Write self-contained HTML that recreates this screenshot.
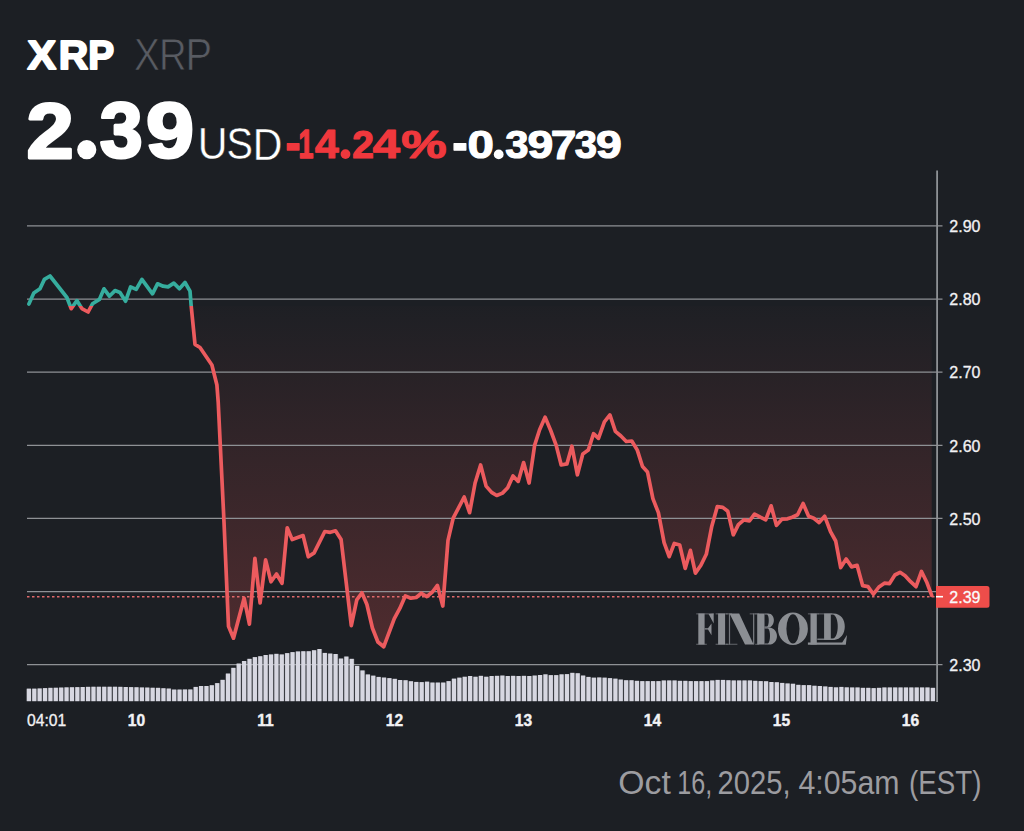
<!DOCTYPE html>
<html><head><meta charset="utf-8">
<style>
html,body{margin:0;padding:0;background:#1c1f24;}
body{width:1024px;height:831px;overflow:hidden;position:relative;font-family:"Liberation Sans",sans-serif;}
.t{position:absolute;white-space:nowrap;line-height:1;transform-origin:0 0;}
svg{position:absolute;left:0;top:0;}
</style></head><body>
<svg width="1024" height="831" viewBox="0 0 1024 831">
<defs>
<linearGradient id="g" x1="0" y1="306.0" x2="0" y2="701" gradientUnits="userSpaceOnUse">
<stop offset="0" stop-color="#ef5350" stop-opacity="0.01"/>
<stop offset="1" stop-color="#ef5350" stop-opacity="0.28"/>
</linearGradient>
<clipPath id="up"><rect x="0" y="0" width="1024" height="306.0"/></clipPath>
<clipPath id="dn"><rect x="0" y="306.0" width="1024" height="600"/></clipPath>
</defs>
<polygon points="28.9,306.0 28.9,304.0 33.8,293.1 40.0,288.8 44.4,279.4 50.0,276.0 66.9,297.5 71.2,308.7 76.9,300.6 81.9,308.6 88.1,312.0 92.5,303.8 99.4,299.4 104.0,288.8 109.4,296.2 115.0,290.6 120.0,292.5 125.6,301.2 130.6,286.9 136.2,289.4 141.9,279.4 152.5,293.8 157.5,283.8 163.1,286.2 168.1,286.9 173.8,283.1 179.4,288.8 185.0,282.5 190.0,291.2 191.2,306.2 195.0,344.4 200.0,347.5 211.9,365.0 216.9,385.0 218.2,402.0 224.0,522.0 228.5,626.4 233.5,638.2 244.1,598.2 249.4,624.1 254.9,558.3 260.1,603.0 265.6,559.9 271.0,581.8 276.5,574.0 282.0,583.4 287.2,527.8 292.2,539.6 303.1,535.6 308.3,556.8 314.1,552.9 324.8,531.5 330.3,532.3 335.5,530.8 341.1,539.6 351.3,625.6 356.8,599.8 361.9,592.8 366.9,604.5 372.4,628.0 377.9,642.0 383.7,646.8 394.3,618.6 399.8,608.4 405.3,595.9 410.8,598.2 416.2,597.5 421.4,593.2 426.9,596.7 432.4,592.0 437.4,585.4 442.8,606.0 448.0,540.3 453.2,518.2 464.2,497.0 469.6,512.7 475.1,483.0 480.6,465.0 486.1,486.1 491.6,492.4 496.7,495.5 502.5,493.1 507.7,487.7 513.0,475.9 518.2,481.4 523.6,462.6 529.1,483.0 534.6,445.4 539.6,429.7 545.1,417.2 550.7,430.5 556.2,445.4 561.2,465.0 566.9,463.9 571.9,446.2 577.4,474.8 582.8,454.0 588.3,450.1 593.5,433.7 598.5,438.4 604.4,421.9 609.9,414.9 615.4,431.3 620.9,436.0 626.3,441.5 631.8,441.0 637.3,450.1 642.5,466.5 647.5,472.0 652.9,498.6 658.4,512.7 664.1,542.6 669.2,556.7 674.3,543.4 679.7,545.0 685.2,568.4 690.4,550.4 695.4,573.1 700.9,565.3 706.3,554.3 711.8,526.2 717.3,506.6 722.8,507.4 727.8,511.3 733.3,534.8 738.4,524.6 743.9,519.9 749.4,521.0 754.5,514.1 760.3,517.2 765.7,519.9 771.1,505.8 776.5,525.4 782.0,519.1 787.5,518.8 792.2,517.2 797.6,514.7 803.1,503.5 808.6,516.3 813.8,518.3 819.1,522.6 824.7,516.3 830.5,531.6 835.7,541.0 840.7,567.6 846.2,559.0 851.6,566.9 857.1,565.3 862.6,585.6 868.0,586.6 873.4,594.2 878.9,587.0 884.4,583.2 889.5,583.6 894.9,575.0 900.0,572.3 905.1,575.8 910.6,581.7 916.0,586.7 921.5,571.5 927.0,582.8 931.7,595.3 931.7,306.0" fill="url(#g)" clip-path="url(#dn)"/>
<g stroke="#8e9195" stroke-width="1.25"><line x1="27" x2="942.5" y1="225.95" y2="225.95"/><line x1="27" x2="942.5" y1="299.05" y2="299.05"/><line x1="27" x2="942.5" y1="372.2" y2="372.2"/><line x1="27" x2="942.5" y1="445.4" y2="445.4"/><line x1="27" x2="942.5" y1="518.45" y2="518.45"/><line x1="27" x2="942.5" y1="591.5" y2="591.5"/><line x1="27" x2="942.5" y1="664.65" y2="664.65"/></g>
<line x1="937.1" x2="937.1" y1="170.5" y2="702" stroke="#8e9195" stroke-width="1.8"/>
<g fill="#d7d7e1" opacity="0.2"><rect x="26.20" y="688.9" width="5.48" height="12.3"/><rect x="31.58" y="688.9" width="5.48" height="12.3"/><rect x="36.96" y="688.7" width="5.48" height="12.5"/><rect x="42.34" y="688.4" width="5.48" height="12.8"/><rect x="47.72" y="688.1" width="5.48" height="13.1"/><rect x="53.10" y="688.0" width="5.48" height="13.2"/><rect x="58.48" y="687.8" width="5.48" height="13.4"/><rect x="63.86" y="687.6" width="5.48" height="13.6"/><rect x="69.25" y="687.5" width="5.48" height="13.7"/><rect x="74.63" y="687.4" width="5.48" height="13.8"/><rect x="80.01" y="687.3" width="5.48" height="13.9"/><rect x="85.39" y="687.1" width="5.48" height="14.1"/><rect x="90.77" y="687.0" width="5.48" height="14.2"/><rect x="96.15" y="687.0" width="5.48" height="14.2"/><rect x="101.53" y="687.0" width="5.48" height="14.2"/><rect x="106.91" y="687.0" width="5.48" height="14.2"/><rect x="112.29" y="687.0" width="5.48" height="14.2"/><rect x="117.67" y="687.1" width="5.48" height="14.1"/><rect x="123.05" y="687.3" width="5.48" height="13.9"/><rect x="128.43" y="687.4" width="5.48" height="13.8"/><rect x="133.81" y="687.5" width="5.48" height="13.7"/><rect x="139.19" y="687.7" width="5.48" height="13.5"/><rect x="144.58" y="687.8" width="5.48" height="13.4"/><rect x="149.96" y="688.0" width="5.48" height="13.2"/><rect x="155.34" y="688.1" width="5.48" height="13.1"/><rect x="160.72" y="688.5" width="5.48" height="12.7"/><rect x="166.10" y="688.8" width="5.48" height="12.4"/><rect x="171.48" y="689.8" width="5.48" height="11.4"/><rect x="176.86" y="689.8" width="5.48" height="11.4"/><rect x="182.24" y="689.7" width="5.48" height="11.5"/><rect x="187.62" y="689.7" width="5.48" height="11.5"/><rect x="193.00" y="687.2" width="5.48" height="14.0"/><rect x="198.38" y="686.3" width="5.48" height="14.9"/><rect x="203.76" y="686.3" width="5.48" height="14.9"/><rect x="209.14" y="685.5" width="5.48" height="15.7"/><rect x="214.52" y="683.4" width="5.48" height="17.8"/><rect x="219.91" y="680.0" width="5.48" height="21.2"/><rect x="225.29" y="673.8" width="5.48" height="27.4"/><rect x="230.67" y="668.0" width="5.48" height="33.2"/><rect x="236.05" y="663.8" width="5.48" height="37.4"/><rect x="241.43" y="661.3" width="5.48" height="39.9"/><rect x="246.81" y="659.0" width="5.48" height="42.2"/><rect x="252.19" y="657.4" width="5.48" height="43.8"/><rect x="257.57" y="656.5" width="5.48" height="44.7"/><rect x="262.95" y="655.3" width="5.48" height="45.9"/><rect x="268.33" y="654.7" width="5.48" height="46.5"/><rect x="273.71" y="654.0" width="5.48" height="47.2"/><rect x="279.09" y="654.7" width="5.48" height="46.5"/><rect x="284.47" y="653.4" width="5.48" height="47.8"/><rect x="289.85" y="652.4" width="5.48" height="48.8"/><rect x="295.24" y="651.7" width="5.48" height="49.5"/><rect x="300.62" y="651.5" width="5.48" height="49.7"/><rect x="306.00" y="651.5" width="5.48" height="49.7"/><rect x="311.38" y="650.5" width="5.48" height="50.7"/><rect x="316.76" y="649.3" width="5.48" height="51.9"/><rect x="322.14" y="653.2" width="5.48" height="48.0"/><rect x="327.52" y="653.8" width="5.48" height="47.4"/><rect x="332.90" y="654.3" width="5.48" height="46.9"/><rect x="338.28" y="658.8" width="5.48" height="42.4"/><rect x="343.66" y="656.8" width="5.48" height="44.4"/><rect x="349.04" y="659.0" width="5.48" height="42.2"/><rect x="354.42" y="666.2" width="5.48" height="35.0"/><rect x="359.80" y="670.7" width="5.48" height="30.5"/><rect x="365.18" y="674.7" width="5.48" height="26.5"/><rect x="370.56" y="675.9" width="5.48" height="25.3"/><rect x="375.95" y="677.2" width="5.48" height="24.0"/><rect x="381.33" y="677.8" width="5.48" height="23.4"/><rect x="386.71" y="678.4" width="5.48" height="22.8"/><rect x="392.09" y="679.0" width="5.48" height="22.2"/><rect x="397.47" y="680.3" width="5.48" height="20.9"/><rect x="402.85" y="680.5" width="5.48" height="20.7"/><rect x="408.23" y="681.5" width="5.48" height="19.7"/><rect x="413.61" y="682.2" width="5.48" height="19.0"/><rect x="418.99" y="682.4" width="5.48" height="18.8"/><rect x="424.37" y="681.9" width="5.48" height="19.3"/><rect x="429.75" y="682.8" width="5.48" height="18.4"/><rect x="435.13" y="682.8" width="5.48" height="18.4"/><rect x="440.51" y="682.8" width="5.48" height="18.4"/><rect x="445.89" y="681.4" width="5.48" height="19.8"/><rect x="451.28" y="678.9" width="5.48" height="22.3"/><rect x="456.66" y="677.9" width="5.48" height="23.3"/><rect x="462.04" y="677.0" width="5.48" height="24.2"/><rect x="467.42" y="676.3" width="5.48" height="24.9"/><rect x="472.80" y="677.0" width="5.48" height="24.2"/><rect x="478.18" y="676.1" width="5.48" height="25.1"/><rect x="483.56" y="677.0" width="5.48" height="24.2"/><rect x="488.94" y="676.3" width="5.48" height="24.9"/><rect x="494.32" y="676.1" width="5.48" height="25.1"/><rect x="499.70" y="675.8" width="5.48" height="25.4"/><rect x="505.08" y="676.3" width="5.48" height="24.9"/><rect x="510.46" y="676.1" width="5.48" height="25.1"/><rect x="515.84" y="676.3" width="5.48" height="24.9"/><rect x="521.22" y="676.1" width="5.48" height="25.1"/><rect x="526.61" y="676.3" width="5.48" height="24.9"/><rect x="531.99" y="675.8" width="5.48" height="25.4"/><rect x="537.37" y="675.3" width="5.48" height="25.9"/><rect x="542.75" y="674.6" width="5.48" height="26.6"/><rect x="548.13" y="675.4" width="5.48" height="25.8"/><rect x="553.51" y="675.4" width="5.48" height="25.8"/><rect x="558.89" y="674.6" width="5.48" height="26.6"/><rect x="564.27" y="674.4" width="5.48" height="26.8"/><rect x="569.65" y="673.1" width="5.48" height="28.1"/><rect x="575.03" y="673.5" width="5.48" height="27.7"/><rect x="580.41" y="675.8" width="5.48" height="25.4"/><rect x="585.79" y="677.2" width="5.48" height="24.0"/><rect x="591.17" y="677.9" width="5.48" height="23.3"/><rect x="596.55" y="677.7" width="5.48" height="23.5"/><rect x="601.93" y="677.9" width="5.48" height="23.3"/><rect x="607.32" y="678.4" width="5.48" height="22.8"/><rect x="612.70" y="678.9" width="5.48" height="22.3"/><rect x="618.08" y="679.8" width="5.48" height="21.4"/><rect x="623.46" y="680.5" width="5.48" height="20.7"/><rect x="628.84" y="680.5" width="5.48" height="20.7"/><rect x="634.22" y="681.1" width="5.48" height="20.1"/><rect x="639.60" y="681.4" width="5.48" height="19.8"/><rect x="644.98" y="681.4" width="5.48" height="19.8"/><rect x="650.36" y="681.4" width="5.48" height="19.8"/><rect x="655.74" y="681.4" width="5.48" height="19.8"/><rect x="661.12" y="680.7" width="5.48" height="20.5"/><rect x="666.50" y="680.7" width="5.48" height="20.5"/><rect x="671.88" y="680.7" width="5.48" height="20.5"/><rect x="677.26" y="681.1" width="5.48" height="20.1"/><rect x="682.65" y="681.1" width="5.48" height="20.1"/><rect x="688.03" y="681.4" width="5.48" height="19.8"/><rect x="693.41" y="681.4" width="5.48" height="19.8"/><rect x="698.79" y="681.4" width="5.48" height="19.8"/><rect x="704.17" y="681.4" width="5.48" height="19.8"/><rect x="709.55" y="680.7" width="5.48" height="20.5"/><rect x="714.93" y="680.2" width="5.48" height="21.0"/><rect x="720.31" y="680.2" width="5.48" height="21.0"/><rect x="725.69" y="680.5" width="5.48" height="20.7"/><rect x="731.07" y="680.7" width="5.48" height="20.5"/><rect x="736.45" y="680.7" width="5.48" height="20.5"/><rect x="741.83" y="680.7" width="5.48" height="20.5"/><rect x="747.21" y="680.7" width="5.48" height="20.5"/><rect x="752.59" y="681.1" width="5.48" height="20.1"/><rect x="757.98" y="681.4" width="5.48" height="19.8"/><rect x="763.36" y="681.5" width="5.48" height="19.7"/><rect x="768.74" y="682.3" width="5.48" height="18.9"/><rect x="774.12" y="682.5" width="5.48" height="18.7"/><rect x="779.50" y="683.2" width="5.48" height="18.0"/><rect x="784.88" y="683.7" width="5.48" height="17.5"/><rect x="790.26" y="684.0" width="5.48" height="17.2"/><rect x="795.64" y="685.1" width="5.48" height="16.1"/><rect x="801.02" y="685.4" width="5.48" height="15.8"/><rect x="806.40" y="685.4" width="5.48" height="15.8"/><rect x="811.78" y="686.0" width="5.48" height="15.2"/><rect x="817.16" y="686.3" width="5.48" height="14.9"/><rect x="822.54" y="686.7" width="5.48" height="14.5"/><rect x="827.92" y="687.2" width="5.48" height="14.0"/><rect x="833.30" y="687.6" width="5.48" height="13.6"/><rect x="838.69" y="687.2" width="5.48" height="14.0"/><rect x="844.07" y="687.6" width="5.48" height="13.6"/><rect x="849.45" y="687.7" width="5.48" height="13.5"/><rect x="854.83" y="687.7" width="5.48" height="13.5"/><rect x="860.21" y="688.1" width="5.48" height="13.1"/><rect x="865.59" y="688.1" width="5.48" height="13.1"/><rect x="870.97" y="688.4" width="5.48" height="12.8"/><rect x="876.35" y="688.1" width="5.48" height="13.1"/><rect x="881.73" y="687.7" width="5.48" height="13.5"/><rect x="887.11" y="687.7" width="5.48" height="13.5"/><rect x="892.49" y="687.7" width="5.48" height="13.5"/><rect x="897.87" y="687.7" width="5.48" height="13.5"/><rect x="903.25" y="687.7" width="5.48" height="13.5"/><rect x="908.63" y="687.7" width="5.48" height="13.5"/><rect x="914.02" y="687.7" width="5.48" height="13.5"/><rect x="919.40" y="687.7" width="5.48" height="13.5"/><rect x="924.78" y="687.7" width="5.48" height="13.5"/><rect x="930.16" y="688.1" width="5.48" height="13.1"/></g><g fill="#d7d7e1"><rect x="26.80" y="688.6" width="4.2" height="12.6"/><rect x="32.18" y="688.6" width="4.2" height="12.6"/><rect x="37.56" y="688.4" width="4.2" height="12.8"/><rect x="42.94" y="688.1" width="4.2" height="13.1"/><rect x="48.32" y="687.8" width="4.2" height="13.4"/><rect x="53.70" y="687.7" width="4.2" height="13.5"/><rect x="59.08" y="687.5" width="4.2" height="13.7"/><rect x="64.46" y="687.3" width="4.2" height="13.9"/><rect x="69.85" y="687.2" width="4.2" height="14.0"/><rect x="75.23" y="687.1" width="4.2" height="14.1"/><rect x="80.61" y="687.0" width="4.2" height="14.2"/><rect x="85.99" y="686.8" width="4.2" height="14.4"/><rect x="91.37" y="686.7" width="4.2" height="14.5"/><rect x="96.75" y="686.7" width="4.2" height="14.5"/><rect x="102.13" y="686.7" width="4.2" height="14.5"/><rect x="107.51" y="686.7" width="4.2" height="14.5"/><rect x="112.89" y="686.7" width="4.2" height="14.5"/><rect x="118.27" y="686.8" width="4.2" height="14.4"/><rect x="123.65" y="687.0" width="4.2" height="14.2"/><rect x="129.03" y="687.1" width="4.2" height="14.1"/><rect x="134.41" y="687.2" width="4.2" height="14.0"/><rect x="139.79" y="687.4" width="4.2" height="13.8"/><rect x="145.18" y="687.5" width="4.2" height="13.7"/><rect x="150.56" y="687.7" width="4.2" height="13.5"/><rect x="155.94" y="687.8" width="4.2" height="13.4"/><rect x="161.32" y="688.2" width="4.2" height="13.0"/><rect x="166.70" y="688.5" width="4.2" height="12.7"/><rect x="172.08" y="689.5" width="4.2" height="11.7"/><rect x="177.46" y="689.5" width="4.2" height="11.7"/><rect x="182.84" y="689.4" width="4.2" height="11.8"/><rect x="188.22" y="689.4" width="4.2" height="11.8"/><rect x="193.60" y="686.9" width="4.2" height="14.3"/><rect x="198.98" y="686.0" width="4.2" height="15.2"/><rect x="204.36" y="686.0" width="4.2" height="15.2"/><rect x="209.74" y="685.2" width="4.2" height="16.0"/><rect x="215.12" y="683.1" width="4.2" height="18.1"/><rect x="220.51" y="679.8" width="4.2" height="21.5"/><rect x="225.89" y="673.5" width="4.2" height="27.7"/><rect x="231.27" y="667.8" width="4.2" height="33.5"/><rect x="236.65" y="663.5" width="4.2" height="37.7"/><rect x="242.03" y="661.0" width="4.2" height="40.2"/><rect x="247.41" y="658.8" width="4.2" height="42.5"/><rect x="252.79" y="657.1" width="4.2" height="44.1"/><rect x="258.17" y="656.2" width="4.2" height="45.0"/><rect x="263.55" y="655.0" width="4.2" height="46.2"/><rect x="268.93" y="654.4" width="4.2" height="46.8"/><rect x="274.31" y="653.8" width="4.2" height="47.5"/><rect x="279.69" y="654.4" width="4.2" height="46.8"/><rect x="285.07" y="653.1" width="4.2" height="48.1"/><rect x="290.45" y="652.1" width="4.2" height="49.1"/><rect x="295.84" y="651.4" width="4.2" height="49.8"/><rect x="301.22" y="651.2" width="4.2" height="50.0"/><rect x="306.60" y="651.2" width="4.2" height="50.0"/><rect x="311.98" y="650.2" width="4.2" height="51.0"/><rect x="317.36" y="649.0" width="4.2" height="52.2"/><rect x="322.74" y="652.9" width="4.2" height="48.3"/><rect x="328.12" y="653.5" width="4.2" height="47.7"/><rect x="333.50" y="654.0" width="4.2" height="47.2"/><rect x="338.88" y="658.5" width="4.2" height="42.7"/><rect x="344.26" y="656.5" width="4.2" height="44.7"/><rect x="349.64" y="658.8" width="4.2" height="42.5"/><rect x="355.02" y="665.9" width="4.2" height="35.3"/><rect x="360.40" y="670.4" width="4.2" height="30.8"/><rect x="365.78" y="674.4" width="4.2" height="26.8"/><rect x="371.16" y="675.6" width="4.2" height="25.6"/><rect x="376.55" y="676.9" width="4.2" height="24.3"/><rect x="381.93" y="677.5" width="4.2" height="23.7"/><rect x="387.31" y="678.1" width="4.2" height="23.1"/><rect x="392.69" y="678.8" width="4.2" height="22.5"/><rect x="398.07" y="680.0" width="4.2" height="21.2"/><rect x="403.45" y="680.2" width="4.2" height="21.0"/><rect x="408.83" y="681.2" width="4.2" height="20.0"/><rect x="414.21" y="681.9" width="4.2" height="19.3"/><rect x="419.59" y="682.1" width="4.2" height="19.1"/><rect x="424.97" y="681.6" width="4.2" height="19.6"/><rect x="430.35" y="682.5" width="4.2" height="18.7"/><rect x="435.73" y="682.5" width="4.2" height="18.7"/><rect x="441.11" y="682.5" width="4.2" height="18.7"/><rect x="446.49" y="681.1" width="4.2" height="20.1"/><rect x="451.88" y="678.6" width="4.2" height="22.6"/><rect x="457.26" y="677.6" width="4.2" height="23.6"/><rect x="462.64" y="676.7" width="4.2" height="24.5"/><rect x="468.02" y="676.0" width="4.2" height="25.2"/><rect x="473.40" y="676.7" width="4.2" height="24.5"/><rect x="478.78" y="675.8" width="4.2" height="25.4"/><rect x="484.16" y="676.7" width="4.2" height="24.5"/><rect x="489.54" y="676.0" width="4.2" height="25.2"/><rect x="494.92" y="675.8" width="4.2" height="25.4"/><rect x="500.30" y="675.5" width="4.2" height="25.7"/><rect x="505.68" y="676.0" width="4.2" height="25.2"/><rect x="511.06" y="675.8" width="4.2" height="25.4"/><rect x="516.44" y="676.0" width="4.2" height="25.2"/><rect x="521.82" y="675.8" width="4.2" height="25.4"/><rect x="527.21" y="676.0" width="4.2" height="25.2"/><rect x="532.59" y="675.5" width="4.2" height="25.7"/><rect x="537.97" y="675.0" width="4.2" height="26.2"/><rect x="543.35" y="674.3" width="4.2" height="26.9"/><rect x="548.73" y="675.1" width="4.2" height="26.1"/><rect x="554.11" y="675.1" width="4.2" height="26.1"/><rect x="559.49" y="674.3" width="4.2" height="26.9"/><rect x="564.87" y="674.1" width="4.2" height="27.1"/><rect x="570.25" y="672.8" width="4.2" height="28.4"/><rect x="575.63" y="673.2" width="4.2" height="28.0"/><rect x="581.01" y="675.5" width="4.2" height="25.7"/><rect x="586.39" y="676.9" width="4.2" height="24.3"/><rect x="591.77" y="677.6" width="4.2" height="23.6"/><rect x="597.15" y="677.4" width="4.2" height="23.8"/><rect x="602.53" y="677.6" width="4.2" height="23.6"/><rect x="607.92" y="678.1" width="4.2" height="23.1"/><rect x="613.30" y="678.6" width="4.2" height="22.6"/><rect x="618.68" y="679.5" width="4.2" height="21.7"/><rect x="624.06" y="680.2" width="4.2" height="21.0"/><rect x="629.44" y="680.2" width="4.2" height="21.0"/><rect x="634.82" y="680.8" width="4.2" height="20.4"/><rect x="640.20" y="681.1" width="4.2" height="20.1"/><rect x="645.58" y="681.1" width="4.2" height="20.1"/><rect x="650.96" y="681.1" width="4.2" height="20.1"/><rect x="656.34" y="681.1" width="4.2" height="20.1"/><rect x="661.72" y="680.4" width="4.2" height="20.8"/><rect x="667.10" y="680.4" width="4.2" height="20.8"/><rect x="672.48" y="680.4" width="4.2" height="20.8"/><rect x="677.86" y="680.8" width="4.2" height="20.4"/><rect x="683.25" y="680.8" width="4.2" height="20.4"/><rect x="688.63" y="681.1" width="4.2" height="20.1"/><rect x="694.01" y="681.1" width="4.2" height="20.1"/><rect x="699.39" y="681.1" width="4.2" height="20.1"/><rect x="704.77" y="681.1" width="4.2" height="20.1"/><rect x="710.15" y="680.4" width="4.2" height="20.8"/><rect x="715.53" y="679.9" width="4.2" height="21.3"/><rect x="720.91" y="679.9" width="4.2" height="21.3"/><rect x="726.29" y="680.2" width="4.2" height="21.0"/><rect x="731.67" y="680.4" width="4.2" height="20.8"/><rect x="737.05" y="680.4" width="4.2" height="20.8"/><rect x="742.43" y="680.4" width="4.2" height="20.8"/><rect x="747.81" y="680.4" width="4.2" height="20.8"/><rect x="753.19" y="680.8" width="4.2" height="20.4"/><rect x="758.58" y="681.1" width="4.2" height="20.1"/><rect x="763.96" y="681.2" width="4.2" height="20.0"/><rect x="769.34" y="682.0" width="4.2" height="19.2"/><rect x="774.72" y="682.2" width="4.2" height="19.0"/><rect x="780.10" y="682.9" width="4.2" height="18.3"/><rect x="785.48" y="683.4" width="4.2" height="17.8"/><rect x="790.86" y="683.7" width="4.2" height="17.5"/><rect x="796.24" y="684.8" width="4.2" height="16.4"/><rect x="801.62" y="685.1" width="4.2" height="16.1"/><rect x="807.00" y="685.1" width="4.2" height="16.1"/><rect x="812.38" y="685.7" width="4.2" height="15.5"/><rect x="817.76" y="686.0" width="4.2" height="15.2"/><rect x="823.14" y="686.4" width="4.2" height="14.8"/><rect x="828.52" y="686.9" width="4.2" height="14.3"/><rect x="833.90" y="687.3" width="4.2" height="13.9"/><rect x="839.29" y="686.9" width="4.2" height="14.3"/><rect x="844.67" y="687.3" width="4.2" height="13.9"/><rect x="850.05" y="687.4" width="4.2" height="13.8"/><rect x="855.43" y="687.4" width="4.2" height="13.8"/><rect x="860.81" y="687.8" width="4.2" height="13.4"/><rect x="866.19" y="687.8" width="4.2" height="13.4"/><rect x="871.57" y="688.1" width="4.2" height="13.1"/><rect x="876.95" y="687.8" width="4.2" height="13.4"/><rect x="882.33" y="687.4" width="4.2" height="13.8"/><rect x="887.71" y="687.4" width="4.2" height="13.8"/><rect x="893.09" y="687.4" width="4.2" height="13.8"/><rect x="898.47" y="687.4" width="4.2" height="13.8"/><rect x="903.85" y="687.4" width="4.2" height="13.8"/><rect x="909.23" y="687.4" width="4.2" height="13.8"/><rect x="914.62" y="687.4" width="4.2" height="13.8"/><rect x="920.00" y="687.4" width="4.2" height="13.8"/><rect x="925.38" y="687.4" width="4.2" height="13.8"/><rect x="930.76" y="687.8" width="4.2" height="13.4"/></g>
<line x1="27" x2="936" y1="596.7" y2="596.7" stroke="#e0686a" stroke-width="1.6" stroke-dasharray="2.5 2.5"/>
<polyline points="28.9,304.0 33.8,293.1 40.0,288.8 44.4,279.4 50.0,276.0 66.9,297.5 71.2,308.7 76.9,300.6 81.9,308.6 88.1,312.0 92.5,303.8 99.4,299.4 104.0,288.8 109.4,296.2 115.0,290.6 120.0,292.5 125.6,301.2 130.6,286.9 136.2,289.4 141.9,279.4 152.5,293.8 157.5,283.8 163.1,286.2 168.1,286.9 173.8,283.1 179.4,288.8 185.0,282.5 190.0,291.2 191.2,306.2 195.0,344.4 200.0,347.5 211.9,365.0 216.9,385.0 218.2,402.0 224.0,522.0 228.5,626.4 233.5,638.2 244.1,598.2 249.4,624.1 254.9,558.3 260.1,603.0 265.6,559.9 271.0,581.8 276.5,574.0 282.0,583.4 287.2,527.8 292.2,539.6 303.1,535.6 308.3,556.8 314.1,552.9 324.8,531.5 330.3,532.3 335.5,530.8 341.1,539.6 351.3,625.6 356.8,599.8 361.9,592.8 366.9,604.5 372.4,628.0 377.9,642.0 383.7,646.8 394.3,618.6 399.8,608.4 405.3,595.9 410.8,598.2 416.2,597.5 421.4,593.2 426.9,596.7 432.4,592.0 437.4,585.4 442.8,606.0 448.0,540.3 453.2,518.2 464.2,497.0 469.6,512.7 475.1,483.0 480.6,465.0 486.1,486.1 491.6,492.4 496.7,495.5 502.5,493.1 507.7,487.7 513.0,475.9 518.2,481.4 523.6,462.6 529.1,483.0 534.6,445.4 539.6,429.7 545.1,417.2 550.7,430.5 556.2,445.4 561.2,465.0 566.9,463.9 571.9,446.2 577.4,474.8 582.8,454.0 588.3,450.1 593.5,433.7 598.5,438.4 604.4,421.9 609.9,414.9 615.4,431.3 620.9,436.0 626.3,441.5 631.8,441.0 637.3,450.1 642.5,466.5 647.5,472.0 652.9,498.6 658.4,512.7 664.1,542.6 669.2,556.7 674.3,543.4 679.7,545.0 685.2,568.4 690.4,550.4 695.4,573.1 700.9,565.3 706.3,554.3 711.8,526.2 717.3,506.6 722.8,507.4 727.8,511.3 733.3,534.8 738.4,524.6 743.9,519.9 749.4,521.0 754.5,514.1 760.3,517.2 765.7,519.9 771.1,505.8 776.5,525.4 782.0,519.1 787.5,518.8 792.2,517.2 797.6,514.7 803.1,503.5 808.6,516.3 813.8,518.3 819.1,522.6 824.7,516.3 830.5,531.6 835.7,541.0 840.7,567.6 846.2,559.0 851.6,566.9 857.1,565.3 862.6,585.6 868.0,586.6 873.4,594.2 878.9,587.0 884.4,583.2 889.5,583.6 894.9,575.0 900.0,572.3 905.1,575.8 910.6,581.7 916.0,586.7 921.5,571.5 927.0,582.8 931.7,595.3" fill="none" stroke="#36ad9e" stroke-width="3.7" stroke-linejoin="round" stroke-linecap="round" clip-path="url(#up)"/>
<polyline points="28.9,304.0 33.8,293.1 40.0,288.8 44.4,279.4 50.0,276.0 66.9,297.5 71.2,308.7 76.9,300.6 81.9,308.6 88.1,312.0 92.5,303.8 99.4,299.4 104.0,288.8 109.4,296.2 115.0,290.6 120.0,292.5 125.6,301.2 130.6,286.9 136.2,289.4 141.9,279.4 152.5,293.8 157.5,283.8 163.1,286.2 168.1,286.9 173.8,283.1 179.4,288.8 185.0,282.5 190.0,291.2 191.2,306.2 195.0,344.4 200.0,347.5 211.9,365.0 216.9,385.0 218.2,402.0 224.0,522.0 228.5,626.4 233.5,638.2 244.1,598.2 249.4,624.1 254.9,558.3 260.1,603.0 265.6,559.9 271.0,581.8 276.5,574.0 282.0,583.4 287.2,527.8 292.2,539.6 303.1,535.6 308.3,556.8 314.1,552.9 324.8,531.5 330.3,532.3 335.5,530.8 341.1,539.6 351.3,625.6 356.8,599.8 361.9,592.8 366.9,604.5 372.4,628.0 377.9,642.0 383.7,646.8 394.3,618.6 399.8,608.4 405.3,595.9 410.8,598.2 416.2,597.5 421.4,593.2 426.9,596.7 432.4,592.0 437.4,585.4 442.8,606.0 448.0,540.3 453.2,518.2 464.2,497.0 469.6,512.7 475.1,483.0 480.6,465.0 486.1,486.1 491.6,492.4 496.7,495.5 502.5,493.1 507.7,487.7 513.0,475.9 518.2,481.4 523.6,462.6 529.1,483.0 534.6,445.4 539.6,429.7 545.1,417.2 550.7,430.5 556.2,445.4 561.2,465.0 566.9,463.9 571.9,446.2 577.4,474.8 582.8,454.0 588.3,450.1 593.5,433.7 598.5,438.4 604.4,421.9 609.9,414.9 615.4,431.3 620.9,436.0 626.3,441.5 631.8,441.0 637.3,450.1 642.5,466.5 647.5,472.0 652.9,498.6 658.4,512.7 664.1,542.6 669.2,556.7 674.3,543.4 679.7,545.0 685.2,568.4 690.4,550.4 695.4,573.1 700.9,565.3 706.3,554.3 711.8,526.2 717.3,506.6 722.8,507.4 727.8,511.3 733.3,534.8 738.4,524.6 743.9,519.9 749.4,521.0 754.5,514.1 760.3,517.2 765.7,519.9 771.1,505.8 776.5,525.4 782.0,519.1 787.5,518.8 792.2,517.2 797.6,514.7 803.1,503.5 808.6,516.3 813.8,518.3 819.1,522.6 824.7,516.3 830.5,531.6 835.7,541.0 840.7,567.6 846.2,559.0 851.6,566.9 857.1,565.3 862.6,585.6 868.0,586.6 873.4,594.2 878.9,587.0 884.4,583.2 889.5,583.6 894.9,575.0 900.0,572.3 905.1,575.8 910.6,581.7 916.0,586.7 921.5,571.5 927.0,582.8 931.7,595.3" fill="none" stroke="#ec5b5e" stroke-width="3.7" stroke-linejoin="round" stroke-linecap="round" clip-path="url(#dn)"/>
<path d="M936 586 H987 a2.5 2.5 0 0 1 2.5 2.5 V605.3 a2.5 2.5 0 0 1 -2.5 2.5 H936 Z" fill="#ee4d4a"/>
<line x1="936" x2="943" y1="596.7" y2="596.7" stroke="#fff" stroke-width="1.6"/>
<g font-family="Liberation Sans, sans-serif" font-size="16" fill="#f2f2f4" stroke="#f2f2f4" stroke-width="0.3"><text x="949.3" y="232.0">2.90</text><text x="949.3" y="305.2">2.80</text><text x="949.3" y="378.3">2.70</text><text x="949.3" y="451.5">2.60</text><text x="949.3" y="524.6">2.50</text><text x="949.3" y="670.8">2.30</text>
<text x="949.3" y="602.8" fill="#fff">2.39</text>
<text x="27" y="726.1" font-size="15.7">04:01</text>
<text x="136.4" y="725.8" text-anchor="middle" font-weight="bold" font-size="15.6" stroke-width="0.4">10</text><text x="265.4" y="725.8" text-anchor="middle" font-weight="bold" font-size="15.6" stroke-width="0.4">11</text><text x="394.4" y="725.8" text-anchor="middle" font-weight="bold" font-size="15.6" stroke-width="0.4">12</text><text x="523.4" y="725.8" text-anchor="middle" font-weight="bold" font-size="15.6" stroke-width="0.4">13</text><text x="652.4" y="725.8" text-anchor="middle" font-weight="bold" font-size="15.6" stroke-width="0.4">14</text><text x="781.4" y="725.8" text-anchor="middle" font-weight="bold" font-size="15.6" stroke-width="0.4">15</text><text x="910.4" y="725.8" text-anchor="middle" font-weight="bold" font-size="15.6" stroke-width="0.4">16</text>
</g>
<g fill="#8b8e93" fill-rule="evenodd">
<g fill="#74777c">
<rect x="696.2" y="613.5" width="17.5" height="0.8"/><rect x="696.2" y="643.8" width="10.6" height="0.8"/>
<rect x="715.6" y="613.5" width="12.2" height="0.8"/><rect x="715.6" y="643.8" width="12.2" height="0.8"/>
<rect x="726" y="613.5" width="6" height="0.8"/><rect x="726" y="643.8" width="11.4" height="0.8"/><rect x="749.7" y="613.5" width="7" height="0.8"/>
<rect x="755.2" y="613.5" width="4" height="0.8"/><rect x="755.2" y="643.8" width="4" height="0.8"/>
<rect x="807.9" y="613.5" width="11" height="0.8"/>
<rect x="817.3" y="613.5" width="15" height="0.8"/>
<rect x="728.9" y="613.5" width="1.2" height="31"/><rect x="753" y="613.5" width="1.3" height="31"/>
</g>
<!-- F -->
<rect x="698.3" y="613.5" width="6.3" height="31"/>
<path d="M708.6 614 L713.7 613.5 L713.7 623.6 Z"/><path d="M704.6 628.2 H708 L711.5 623.4 V635.2 L708 629.6 H704.6 Z"/>
<!-- I -->
<rect x="718.1" y="613.5" width="7" height="31"/>
<!-- N -->
<path d="M729.6 613.5 H739.2 L753.6 644.5 H745 Z"/>
<!-- B -->
<rect x="757.2" y="613.5" width="7.3" height="31"/>
<path d="M764.5 613.5 H768 C776.2 613.5 775.6 627.3 768 627.6 H764.5 Z M764.5 614.5 H767.2 C769.3 616 769.3 625 767.2 626.6 H764.5 Z"/>
<path d="M764.5 627.4 H769 C779.8 628 779.6 644.5 769 644.5 H764.5 Z M764.5 628.6 H768 C770.7 630 770.7 642 768 643.5 H764.5 Z"/>
<!-- O -->
<path d="M778 628.85 a14.95 16.25 0 1 0 29.9 0 a14.95 16.25 0 1 0 -29.9 0 Z M786.4 628.85 a6.55 14.5 0 1 0 13.1 0 a6.55 14.5 0 1 0 -13.1 0 Z"/>
<!-- L -->
<rect x="810.5" y="613.5" width="6.3" height="31"/>
<path d="M807.9 642.5 H842.2 L847 635 L845.8 644.7 H807.9 Z"/>
<!-- D -->
<rect x="824.1" y="613.5" width="6.7" height="26.3"/><rect x="817.3" y="638.6" width="18" height="1.2"/>
<path d="M830.7 613.5 H833.6 C848.6 613.5 848.6 639.8 833.6 639.8 H830.7 Z M830.7 614.5 H833 C839.4 616 839.4 637.2 833 638.7 H830.7 Z"/>
</g>
<text transform="translate(27.42,68.90) scale(1.0632,1)" font-family="Liberation Sans, sans-serif" font-weight="bold" font-size="40.26" fill="#fff" stroke="#fff" stroke-width="1.94" stroke-linejoin="round">X</text><text transform="translate(58.77,68.90) scale(1.0134,1)" font-family="Liberation Sans, sans-serif" font-weight="bold" font-size="40.26" fill="#fff" stroke="#fff" stroke-width="1.99" stroke-linejoin="round">R</text><text transform="translate(88.21,68.90) scale(0.9633,1)" font-family="Liberation Sans, sans-serif" font-weight="bold" font-size="40.26" fill="#fff" stroke="#fff" stroke-width="2.04" stroke-linejoin="round">P</text><text transform="translate(134.03,70.35) scale(0.8651,1)" font-family="Liberation Sans, sans-serif" font-weight="normal" font-size="44.77" fill="#585b62" stroke="#1c1f24" stroke-width="0.75" stroke-linejoin="round">X</text><text transform="translate(159.11,70.35) scale(0.8540,1)" font-family="Liberation Sans, sans-serif" font-weight="normal" font-size="44.77" fill="#585b62" stroke="#1c1f24" stroke-width="0.76" stroke-linejoin="round">R</text><text transform="translate(185.38,70.35) scale(0.8898,1)" font-family="Liberation Sans, sans-serif" font-weight="normal" font-size="44.77" fill="#585b62" stroke="#1c1f24" stroke-width="0.74" stroke-linejoin="round">P</text><text transform="translate(26.45,158.10) scale(1.0864,1)" font-family="Liberation Sans, sans-serif" font-weight="bold" font-size="78.20" fill="#fff" stroke="#fff" stroke-width="2.88" stroke-linejoin="round">2</text><text transform="translate(99.73,157.24) scale(1.0012,1)" font-family="Liberation Sans, sans-serif" font-weight="bold" font-size="76.96" fill="#fff" stroke="#fff" stroke-width="3.00" stroke-linejoin="round">3</text><text transform="translate(145.91,157.35) scale(1.1190,1)" font-family="Liberation Sans, sans-serif" font-weight="bold" font-size="77.12" fill="#fff" stroke="#fff" stroke-width="2.83" stroke-linejoin="round">9</text><circle cx="86.75" cy="149.7" r="9.6" fill="#fff"/><text transform="translate(197.82,159.06) scale(0.9245,1)" font-family="Liberation Sans, sans-serif" font-weight="normal" font-size="44.57" fill="#fff" stroke="#1c1f24" stroke-width="0.42" stroke-linejoin="round">U</text><text transform="translate(226.60,159.07) scale(0.9016,1)" font-family="Liberation Sans, sans-serif" font-weight="normal" font-size="43.93" fill="#fff" stroke="#1c1f24" stroke-width="0.42" stroke-linejoin="round">S</text><text transform="translate(252.83,159.50) scale(0.9076,1)" font-family="Liberation Sans, sans-serif" font-weight="normal" font-size="45.20" fill="#fff" stroke="#1c1f24" stroke-width="0.42" stroke-linejoin="round">D</text><text transform="translate(285.48,160.50) scale(0.8518,1)" font-family="Liberation Sans, sans-serif" font-weight="bold" font-size="54.56" fill="#f0383d" stroke="#f0383d" stroke-width="1.30" stroke-linejoin="round">-</text><text transform="translate(298.61,158.40) scale(0.6720,1)" font-family="Liberation Sans, sans-serif" font-weight="bold" font-size="39.97" fill="#f0383d" stroke="#f0383d" stroke-width="1.44" stroke-linejoin="round">1</text><text transform="translate(314.96,158.40) scale(1.0649,1)" font-family="Liberation Sans, sans-serif" font-weight="bold" font-size="39.97" fill="#f0383d" stroke="#f0383d" stroke-width="1.16" stroke-linejoin="round">4</text><text transform="translate(352.25,158.40) scale(0.9915,1)" font-family="Liberation Sans, sans-serif" font-weight="bold" font-size="39.38" fill="#f0383d" stroke="#f0383d" stroke-width="1.21" stroke-linejoin="round">2</text><text transform="translate(372.86,158.40) scale(1.2237,1)" font-family="Liberation Sans, sans-serif" font-weight="bold" font-size="39.97" fill="#f0383d" stroke="#f0383d" stroke-width="1.08" stroke-linejoin="round">4</text><text transform="translate(401.33,158.09) scale(1.3069,1)" font-family="Liberation Sans, sans-serif" font-weight="bold" font-size="39.08" fill="#f0383d" stroke="#f0383d" stroke-width="1.04" stroke-linejoin="round">%</text><circle cx="345.5" cy="154.1" r="4.9" fill="#f0383d"/><text transform="translate(452.18,160.50) scale(0.8518,1)" font-family="Liberation Sans, sans-serif" font-weight="bold" font-size="54.56" fill="#fff" stroke="#fff" stroke-width="1.30" stroke-linejoin="round">-</text><text transform="translate(467.42,158.42) scale(1.2059,1)" font-family="Liberation Sans, sans-serif" font-weight="bold" font-size="39.41" fill="#fff" stroke="#fff" stroke-width="1.09" stroke-linejoin="round">0</text><text transform="translate(505.24,158.36) scale(1.0641,1)" font-family="Liberation Sans, sans-serif" font-weight="bold" font-size="39.32" fill="#fff" stroke="#fff" stroke-width="1.16" stroke-linejoin="round">3</text><text transform="translate(527.49,158.42) scale(1.1788,1)" font-family="Liberation Sans, sans-serif" font-weight="bold" font-size="39.41" fill="#fff" stroke="#fff" stroke-width="1.10" stroke-linejoin="round">9</text><text transform="translate(550.82,158.80) scale(1.1351,1)" font-family="Liberation Sans, sans-serif" font-weight="bold" font-size="40.55" fill="#fff" stroke="#fff" stroke-width="1.12" stroke-linejoin="round">7</text><text transform="translate(574.68,158.36) scale(1.0180,1)" font-family="Liberation Sans, sans-serif" font-weight="bold" font-size="39.32" fill="#fff" stroke="#fff" stroke-width="1.19" stroke-linejoin="round">3</text><text transform="translate(595.99,158.42) scale(1.1788,1)" font-family="Liberation Sans, sans-serif" font-weight="bold" font-size="39.41" fill="#fff" stroke="#fff" stroke-width="1.10" stroke-linejoin="round">9</text><circle cx="498.7" cy="154.4" r="4.9" fill="#fff"/>
<g font-family="Liberation Sans, sans-serif" font-size="32.6" fill="#9c9ca0" lengthAdjust="spacingAndGlyphs">
<text x="618.3" y="793.8" textLength="52.5" lengthAdjust="spacingAndGlyphs">Oct</text>
<text x="677.3" y="793.8" textLength="35" lengthAdjust="spacingAndGlyphs">16,</text>
<text x="717.5" y="793.8" textLength="73" lengthAdjust="spacingAndGlyphs">2025,</text>
<text x="798.5" y="793.8" textLength="101" lengthAdjust="spacingAndGlyphs">4:05am</text>
<text x="909" y="793.8" textLength="72.5" lengthAdjust="spacingAndGlyphs">(EST)</text>
</g>
</svg>
</body></html>
